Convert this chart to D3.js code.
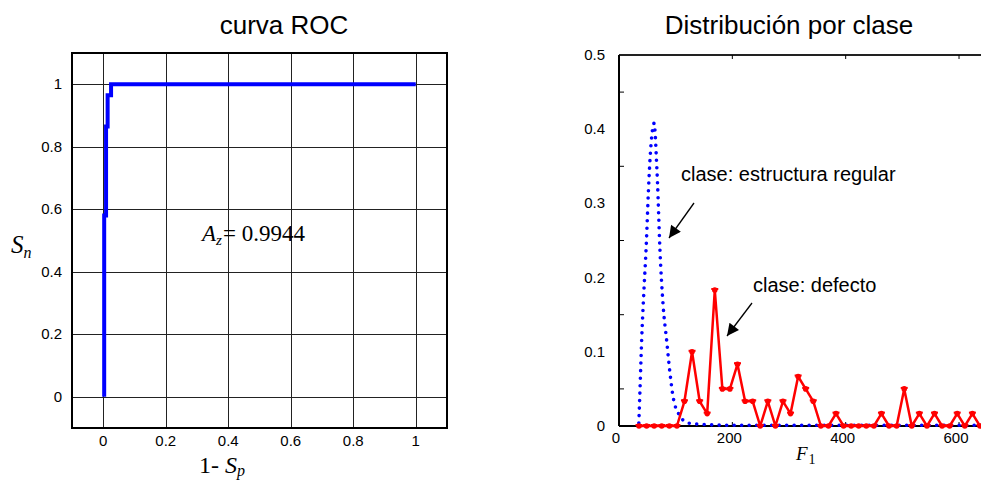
<!DOCTYPE html>
<html><head><meta charset="utf-8">
<script src="https://cdn.jsdelivr.net/npm/d3@7"></script>
<style>
html,body{margin:0;padding:0;background:#fff;overflow:hidden}
svg{display:block}
text{font-family:"Liberation Sans",Arial,sans-serif;fill:#000}
.serif{font-family:"Liberation Serif","Times New Roman",serif}
</style></head><body>
<svg id="c" width="981" height="481"></svg>
<script>
// ---- ROC chart data ----
const rocTicks = [0, 0.2, 0.4, 0.6, 0.8, 1];
const rocFpr = [0.003, 0.003, 0.009, 0.009, 0.014, 0.014, 0.025, 0.025, 1];
const rocTpr = [0, 0.58, 0.58, 0.865, 0.865, 0.965, 0.965, 1, 1];
const rocArea = "= 0.9944";

// ---- class distribution data ----
const distYTicks = [0, 0.1, 0.2, 0.3, 0.4, 0.5];
const distYMinor = [0.05, 0.15, 0.25, 0.35, 0.45];
const distXTicks = [0, 200, 400, 600];
const regularF = [35, 37, 40, 44, 48, 52, 55, 58, 62, 64, 66, 68, 72, 78, 84, 90, 96, 108, 122, 150, 200, 700];
const regularV = [0.004, 0.048, 0.116, 0.183, 0.242, 0.318, 0.363, 0.392, 0.408, 0.392, 0.36, 0.327, 0.242, 0.161, 0.116, 0.071, 0.037, 0.013, 0.004, 0.002, 0.001, 0.001];
const defectF = [35.3, 48.7, 62.0, 75.4, 88.8, 102.2, 115.5, 128.9, 142.3, 155.6, 169.0, 182.4, 195.7, 209.1, 222.5, 235.9,
  249.2, 262.6, 276.0, 289.3, 302.7, 316.1, 329.4, 342.8, 356.2, 369.6, 382.9, 396.3, 409.7, 423.0, 436.4, 449.8,
  463.1, 476.5, 489.9, 503.3, 516.6, 530.0, 543.4, 556.7, 570.1, 583.5, 596.8, 610.2, 623.6, 637.0];
const defectV = [0, 0, 0, 0, 0, 0, 0.0333, 0.1, 0.0333, 0.0167, 0.1833, 0.05, 0.05, 0.0833, 0.0333, 0.0333,
  0, 0.0333, 0, 0.0333, 0.0167, 0.0667, 0.05, 0.0333, 0, 0, 0.0167, 0, 0, 0, 0, 0,
  0.0167, 0, 0, 0.05, 0, 0.0167, 0, 0.0167, 0, 0, 0.0167, 0, 0.0167, 0];

const svg = d3.select("#c");
const defs = svg.append("defs");
defs.append("marker").attr("id","ah").attr("viewBox","0 0 10 10").attr("refX",10).attr("refY",5)
  .attr("markerWidth",16).attr("markerHeight",12).attr("markerUnits","userSpaceOnUse").attr("orient","auto")
  .append("path").attr("d","M0,0 L10,5 L0,10 Z").attr("fill","#000");

// ================= LEFT: ROC =================
const x1 = d3.scaleLinear().domain([-0.1, 1.1]).range([72, 447]);
const y1 = d3.scaleLinear().domain([-0.1, 1.1]).range([428, 53]);
const g1 = svg.append("g");
// grid
g1.selectAll(".vg").data(rocTicks).join("line")
  .attr("x1", d => Math.round(x1(d)) + 0.5).attr("x2", d => Math.round(x1(d)) + 0.5)
  .attr("y1", y1(1.1)).attr("y2", y1(-0.1)).attr("stroke", "#222").attr("stroke-width", 1);
g1.selectAll(".hg").data(rocTicks).join("line")
  .attr("y1", d => Math.round(y1(d)) + 0.5).attr("y2", d => Math.round(y1(d)) + 0.5)
  .attr("x1", x1(-0.1)).attr("x2", x1(1.1)).attr("stroke", "#222").attr("stroke-width", 1);
// frame
g1.append("rect").attr("x", x1(-0.1)).attr("y", y1(1.1))
  .attr("width", x1(1.1) - x1(-0.1)).attr("height", y1(-0.1) - y1(1.1))
  .attr("fill", "none").attr("stroke", "#000").attr("stroke-width", 2);
// tick labels
const fmt1 = d => d === 0 ? "0" : d === 1 ? "1" : d3.format(".1f")(d);
g1.selectAll(".xl").data(rocTicks).join("text")
  .attr("x", d => x1(d)).attr("y", 446).attr("text-anchor", "middle")
  .style("font-size", "15px").text(fmt1);
g1.selectAll(".yl").data(rocTicks).join("text")
  .attr("x", 62).attr("y", d => y1(d) + 5).attr("text-anchor", "end")
  .style("font-size", "15px").text(fmt1);
// curve
const rocLine = d3.line().x(d => x1(d[0])).y(d => y1(d[1]));
g1.append("path").datum(d3.zip(rocFpr, rocTpr)).attr("d", rocLine)
  .attr("fill", "none").attr("stroke", "#0000ff").attr("stroke-width", 4).attr("stroke-linejoin", "miter");
// title and labels
svg.append("text").attr("x", 284).attr("y", 34).attr("text-anchor", "middle").style("font-size", "26px").text("curva ROC");
const az = svg.append("text").attr("class", "serif").attr("x", 202).attr("y", 241).style("font-size", "23px");
az.append("tspan").style("font-style", "italic").text("A");
az.append("tspan").style("font-style", "italic").style("font-size", "15px").attr("dy", 4).text("z");
az.append("tspan").attr("dy", -4).attr("dx", 1).text(rocArea);
const sn = svg.append("text").attr("class", "serif").attr("x", 11).attr("y", 253).style("font-size", "25px");
sn.append("tspan").style("font-style", "italic").text("S");
sn.append("tspan").style("font-style", "italic").style("font-size", "16px").attr("dy", 5).text("n");
const sp = svg.append("text").attr("class", "serif").attr("x", 199).attr("y", 473).style("font-size", "24px");
sp.append("tspan").text("1- ");
sp.append("tspan").style("font-style", "italic").text("S");
sp.append("tspan").style("font-style", "italic").style("font-size", "16px").attr("dy", 3).text("p");

// ================= RIGHT: distribution =================
const x2 = d3.scaleLinear().domain([0, 700]).range([619, 1015.7]);
const y2 = d3.scaleLinear().domain([0, 0.5]).range([426, 55]);
const g2 = svg.append("g");
// axes lines
g2.append("line").attr("x1", x2(0)).attr("x2", x2(700)).attr("y1", y2(0)).attr("y2", y2(0)).attr("stroke", "#000").attr("stroke-width", 2);
g2.append("line").attr("x1", x2(0)).attr("x2", x2(700)).attr("y1", y2(0.5)).attr("y2", y2(0.5)).attr("stroke", "#222").attr("stroke-width", 2);
g2.append("line").attr("x1", x2(0)).attr("x2", x2(0)).attr("y1", y2(0)).attr("y2", y2(0.5)).attr("stroke", "#000").attr("stroke-width", 2);
// minor ticks
g2.selectAll(".ym").data(distYMinor).join("line")
  .attr("x1", x2(0)).attr("x2", x2(0) + 5).attr("y1", d => y2(d)).attr("y2", d => y2(d))
  .attr("stroke", "#000").attr("stroke-width", 1);
g2.selectAll(".xt").data(distXTicks.slice(1)).join("line")
  .attr("x1", d => x2(d)).attr("x2", d => x2(d)).attr("y1", y2(0)).attr("y2", y2(0) - 4)
  .attr("stroke", "#000").attr("stroke-width", 1);
g2.selectAll(".xt2").data(distXTicks.slice(1)).join("line")
  .attr("x1", d => x2(d)).attr("x2", d => x2(d)).attr("y1", y2(0.5)).attr("y2", y2(0.5) + 4)
  .attr("stroke", "#000").attr("stroke-width", 1);
// tick labels
g2.selectAll(".yl").data(distYTicks).join("text")
  .attr("x", 605).attr("y", d => y2(d) + 5).attr("text-anchor", "end")
  .style("font-size", "15px").text(d => d === 0 ? "0" : d3.format(".1f")(d));
g2.selectAll(".xl").data(distXTicks).join("text")
  .attr("x", d => x2(d) - 3).attr("y", 443).attr("text-anchor", "middle")
  .style("font-size", "15px").text(d => d);
// regular structure curve (dotted)
const regLine = d3.line().x(d => x2(d[0])).y(d => y2(d[1])).curve(d3.curveMonotoneX);
g2.append("path").datum(d3.zip(regularF, regularV)).attr("d", regLine)
  .attr("fill", "none").attr("stroke", "#0000ff").attr("stroke-width", 3.6)
  .attr("stroke-linecap", "round").attr("stroke-dasharray", "0 7.5");
// defect curve
const defLine = d3.line().x(d => x2(d[0])).y(d => y2(d[1]));
const defData = d3.zip(defectF, defectV);
g2.append("path").datum(defData).attr("d", defLine)
  .attr("fill", "none").attr("stroke", "#ff0000").attr("stroke-width", 2.5).attr("stroke-linejoin", "round");
g2.selectAll(".dm").data(defData).join("circle")
  .attr("cx", d => x2(d[0])).attr("cy", d => y2(d[1])).attr("r", 2.8).attr("fill", "#ff0000");
g2.selectAll(".dc").data(defData).join("line")
  .attr("x1", d => x2(d[0]) - 3.5).attr("x2", d => x2(d[0]) + 3.5)
  .attr("y1", d => y2(d[1]) - 1).attr("y2", d => y2(d[1]) - 1)
  .attr("stroke", "#ff0000").attr("stroke-width", 2);
// annotations
svg.append("text").attr("x", 681).attr("y", 181).style("font-size", "20px").text("clase: estructura regular");
svg.append("line").attr("x1", 694).attr("y1", 203).attr("x2", 669).attr("y2", 238)
  .attr("stroke", "#000").attr("stroke-width", 1.3).attr("marker-end", "url(#ah)");
svg.append("text").attr("x", 753).attr("y", 292).style("font-size", "20px").text("clase: defecto");
svg.append("line").attr("x1", 752).attr("y1", 303).attr("x2", 727).attr("y2", 336)
  .attr("stroke", "#000").attr("stroke-width", 1.3).attr("marker-end", "url(#ah)");
svg.append("text").attr("x", 789).attr("y", 34).attr("text-anchor", "middle").style("font-size", "26px").text("Distribución por clase");
const f1 = svg.append("text").attr("class", "serif").attr("x", 796).attr("y", 460).style("font-size", "19px");
f1.append("tspan").style("font-style", "italic").text("F");
f1.append("tspan").style("font-size", "14px").attr("dy", 4).attr("dx", 1).text("1");
</script>
</body></html>
